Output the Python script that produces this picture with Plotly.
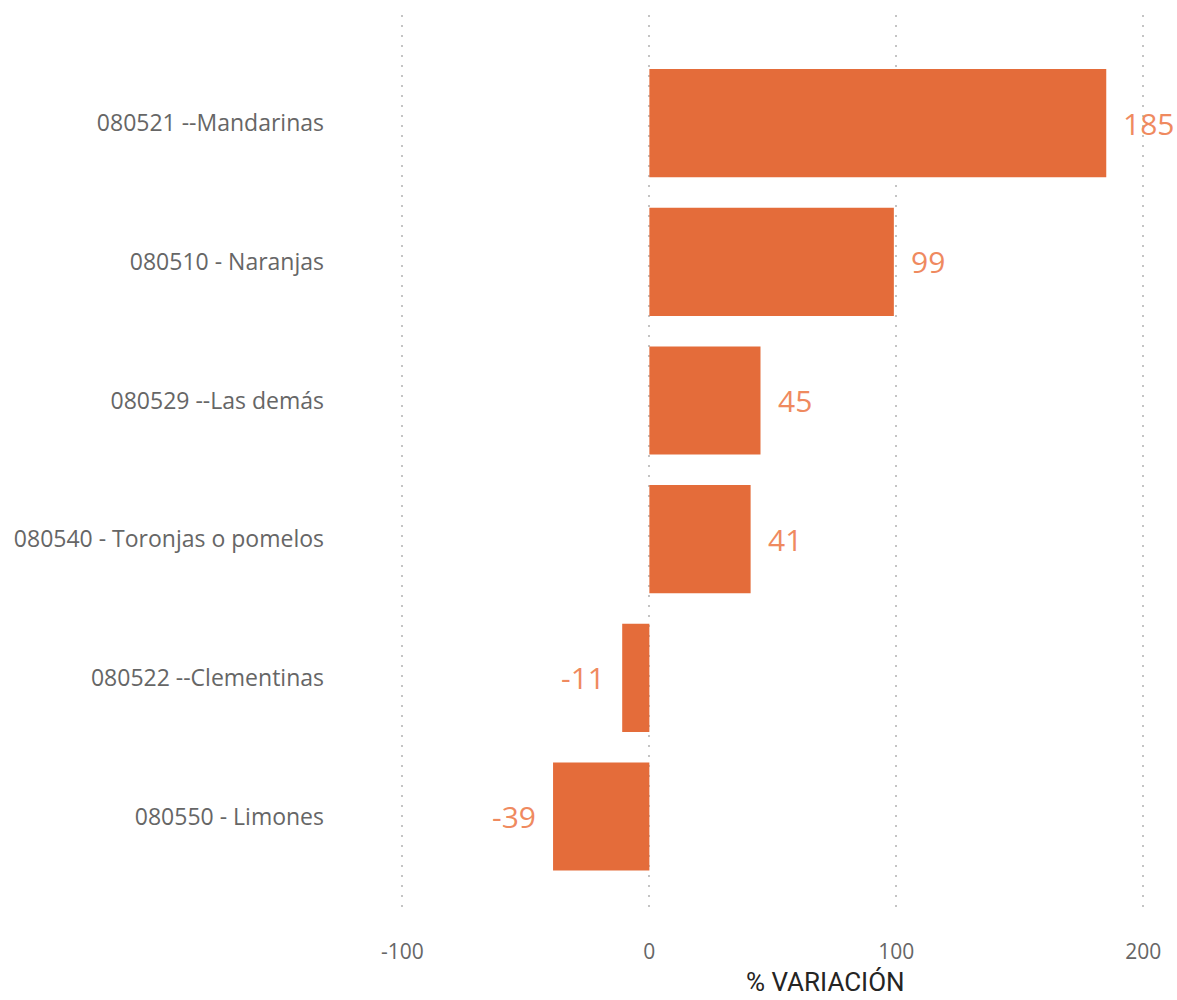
import plotly.graph_objects as go

categories = ["080521 --Mandarinas", "080510 - Naranjas", "080529 --Las demás",
              "080540 - Toronjas o pomelos", "080522 --Clementinas", "080550 - Limones"]
values = [185, 99, 45, 41, -11, -39]
tick_vals = [-100, 0, 100, 200]
tick_text = ["-100", "0", "100", "200"]

fig = go.Figure(go.Bar(
    x=values, y=categories, orientation="h",
    marker=dict(color="#E46C3A", line=dict(width=0)),
    width=0.78,
    hoverinfo="x+y",
))

annotations = []
for cat, v in zip(categories, values):
    annotations.append(dict(
        x=v, y=cat, xref="x", yref="y", text=str(v), showarrow=False,
        xanchor="left" if v >= 0 else "right",
        xshift=15 if v >= 0 else -15, yanchor="middle",
        font=dict(family="Open Sans", size=30, color="#EF8A5F"),
    ))
annotations.append(dict(
    text="% VARIACIÓN", xref="paper", yref="paper", x=0.58, y=0,
    yshift=-67, xanchor="center", yanchor="middle", showarrow=False,
    font=dict(family="Roboto", size=26, color="#252423"),
))

fig.update_layout(
    width=1177, height=1000,
    margin=dict(l=353, r=9, t=15, b=85),
    paper_bgcolor="white", plot_bgcolor="white",
    showlegend=False,
    font=dict(family="Open Sans", color="#666666"),
    xaxis=dict(
        range=[-120, 210], tickvals=tick_vals, ticktext=tick_text,
        showgrid=True, gridcolor="#C4C4C4", griddash="2px,8px", gridwidth=2,
        zeroline=False, showline=False, ticks="",
        tickfont=dict(family="Open Sans", size=21, color="#666666"),
        ticklabelstandoff=22,
    ),
    yaxis=dict(
        categoryorder="array", categoryarray=categories,
        range=[5.71, -0.78],
        showgrid=False, zeroline=False, showline=False, ticks="",
        tickfont=dict(family="Open Sans", size=23, color="#666666"),
        ticklabelstandoff=28,
    ),
    annotations=annotations,
)

fig.write_html(
    "out.html",
    config={"displayModeBar": False},
    post_script="document.body.style.margin='0';document.body.style.overflow='hidden';",
)
